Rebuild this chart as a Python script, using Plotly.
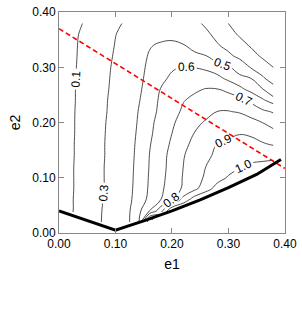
import plotly.graph_objects as go

# grid coordinates
e1_grid = [0.00, 0.02, 0.04, 0.06, 0.08, 0.10, 0.12, 0.14, 0.16, 0.18,
           0.20, 0.22, 0.24, 0.26, 0.28, 0.30, 0.32, 0.34, 0.36, 0.38]
e2_grid = [0.02, 0.04, 0.06, 0.08, 0.10, 0.12, 0.14, 0.16, 0.18, 0.20,
           0.22, 0.24, 0.26, 0.28, 0.30, 0.32, 0.34, 0.36, 0.38]

N = None
# values (rows = e2, columns = e1)
z_values = [
    [N, N, N, 0.24, 0.32, 0.40, 0.48, 0.56, 1.10, N, N, N, N, N, N, N, N, N, N, N],
    [0.0, 0.08, 0.159, 0.237, 0.316, 0.394, 0.472, 0.568, 0.70, 0.864, 1.10, 1.15, N, N, N, N, N, N, N, N],
    [0.0, 0.08, 0.157, 0.232, 0.308, 0.386, 0.465, 0.544, 0.623, 0.70, 0.80, 0.938, 1.06, 1.12, N, N, N, N, N, N],
    [0.0, 0.077, 0.152, 0.226, 0.30, 0.38, 0.46, 0.537, 0.611, 0.682, 0.748, 0.813, 0.877, 0.957, 1.04, 1.08, N, N, N, N],
    [0.0, 0.077, 0.152, 0.226, 0.30, 0.378, 0.457, 0.533, 0.607, 0.673, 0.74, 0.806, 0.861, 0.914, 0.962, 1.01, 1.04, 1.06, N, N],
    [0.0, 0.077, 0.152, 0.226, 0.30, 0.377, 0.454, 0.53, 0.603, 0.668, 0.733, 0.80, 0.85, 0.90, 0.932, 0.963, 0.995, 1.02, 1.03, 1.04],
    [0.0, 0.074, 0.148, 0.222, 0.296, 0.372, 0.45, 0.526, 0.60, 0.665, 0.729, 0.794, 0.84, 0.884, 0.915, 0.935, 0.95, 0.96, 0.967, 0.972],
    [0.0, 0.074, 0.148, 0.222, 0.296, 0.372, 0.447, 0.521, 0.593, 0.655, 0.715, 0.776, 0.825, 0.867, 0.903, 0.92, 0.93, 0.925, 0.91, 0.895],
    [0.0, 0.071, 0.146, 0.219, 0.293, 0.367, 0.441, 0.514, 0.583, 0.643, 0.70, 0.754, 0.803, 0.83, 0.857, 0.88, 0.897, 0.89, 0.865, 0.83],
    [0.0, 0.071, 0.145, 0.216, 0.289, 0.362, 0.435, 0.507, 0.576, 0.634, 0.687, 0.733, 0.778, 0.81, 0.835, 0.853, 0.857, 0.835, 0.80, 0.76],
    [0.0, 0.071, 0.142, 0.212, 0.282, 0.355, 0.427, 0.50, 0.565, 0.62, 0.671, 0.712, 0.741, 0.771, 0.80, 0.803, 0.791, 0.755, 0.718, 0.69],
    [0.0, 0.069, 0.138, 0.209, 0.279, 0.349, 0.419, 0.489, 0.557, 0.614, 0.655, 0.696, 0.718, 0.737, 0.752, 0.755, 0.733, 0.683, 0.617, 0.56],
    [0.0, 0.069, 0.137, 0.205, 0.272, 0.341, 0.41, 0.479, 0.544, 0.603, 0.631, 0.66, 0.689, 0.704, 0.705, 0.675, 0.625, 0.571, 0.514, 0.38],
    [0.0, 0.067, 0.133, 0.20, 0.267, 0.334, 0.403, 0.472, 0.53, 0.58, 0.615, 0.635, 0.65, 0.655, 0.625, 0.58, 0.54, 0.50, 0.333, 0.20],
    [0.0, 0.065, 0.13, 0.195, 0.26, 0.328, 0.397, 0.466, 0.52, 0.56, 0.59, 0.605, 0.598, 0.58, 0.555, 0.52, 0.426, 0.286, 0.193, 0.098],
    [0.0, 0.063, 0.125, 0.189, 0.252, 0.317, 0.385, 0.453, 0.51, 0.54, 0.56, 0.555, 0.535, 0.51, 0.433, 0.344, 0.256, 0.167, 0.078, 0.03],
    [0.0, 0.061, 0.122, 0.183, 0.245, 0.306, 0.368, 0.429, 0.491, 0.515, 0.52, 0.508, 0.45, 0.383, 0.317, 0.24, 0.16, 0.08, 0.04, 0.0],
    [0.0, 0.057, 0.115, 0.176, 0.236, 0.297, 0.338, 0.379, 0.419, 0.46, 0.472, 0.432, 0.384, 0.336, 0.25, 0.16, 0.078, 0.02, -0.02, -0.04],
    [0.0, 0.048, 0.095, 0.153, 0.212, 0.271, 0.321, 0.364, 0.407, 0.44, 0.43, 0.39, 0.34, 0.27, 0.185, 0.098, 0.03, 0.0, -0.03, -0.05],
]

# thick boundary line
boundary_e1 = [0.00, 0.10, 0.15, 0.20, 0.25, 0.30, 0.35, 0.393]
boundary_e2 = [0.040, 0.005, 0.022, 0.040, 0.060, 0.082, 0.106, 0.133]

# red dashed line
dashed_e1 = [0.00, 0.40]
dashed_e2 = [0.37, 0.117]

tick_vals = [0.0, 0.1, 0.2, 0.3, 0.4]
tick_text = ["0.00", "0.10", "0.20", "0.30", "0.40"]

font_family = "Liberation Sans, Arial, sans-serif"

fig = go.Figure()

for start, end, size in [(0.1, 0.5, 0.2), (0.6, 1.0, 0.1)]:
    fig.add_trace(go.Contour(
        x=e1_grid, y=e2_grid, z=z_values,
        connectgaps=False,
        autocontour=False,
        contours=dict(start=start, end=end + 1e-6, size=size, coloring="none",
                      showlabels=True,
                      labelfont=dict(family=font_family, size=12, color="black"),
                      labelformat=".1f"),
        line=dict(color="#222222", width=0.8, smoothing=1.2),
        showscale=False, hoverinfo="skip",
    ))

fig.add_trace(go.Scatter(x=dashed_e1, y=dashed_e2, mode="lines",
                         line=dict(color="#ff0000", width=1.6, dash="5px,3px"),
                         hoverinfo="skip"))
fig.add_trace(go.Scatter(x=boundary_e1, y=boundary_e2, mode="lines",
                         line=dict(color="black", width=3),
                         hoverinfo="skip"))

axis_common = dict(range=[0, 0.4002], tickvals=tick_vals, ticktext=tick_text,
                   ticks="inside", ticklen=5, tickcolor="#888888",
                   showline=True, linecolor="#888888", linewidth=1,
                   mirror="ticks", showgrid=False, zeroline=False,
                   ticklabeloverflow="allow",
                   tickfont=dict(family=font_family, size=12, color="black"))

fig.update_layout(
    width=302, height=327,
    margin=dict(l=59, r=12, t=5, b=94),
    plot_bgcolor="white", paper_bgcolor="white",
    showlegend=False,
    font=dict(family=font_family, size=12, color="black"),
    xaxis=dict(**axis_common, title=dict(text="e1", font=dict(size=14), standoff=8)),
    yaxis=dict(**axis_common, title=dict(text="e2", font=dict(size=14), standoff=8)),
)

fig.write_html("out.html", config={"displayModeBar": False},
               post_script="document.body.style.margin='0';document.body.style.overflow='hidden';")
